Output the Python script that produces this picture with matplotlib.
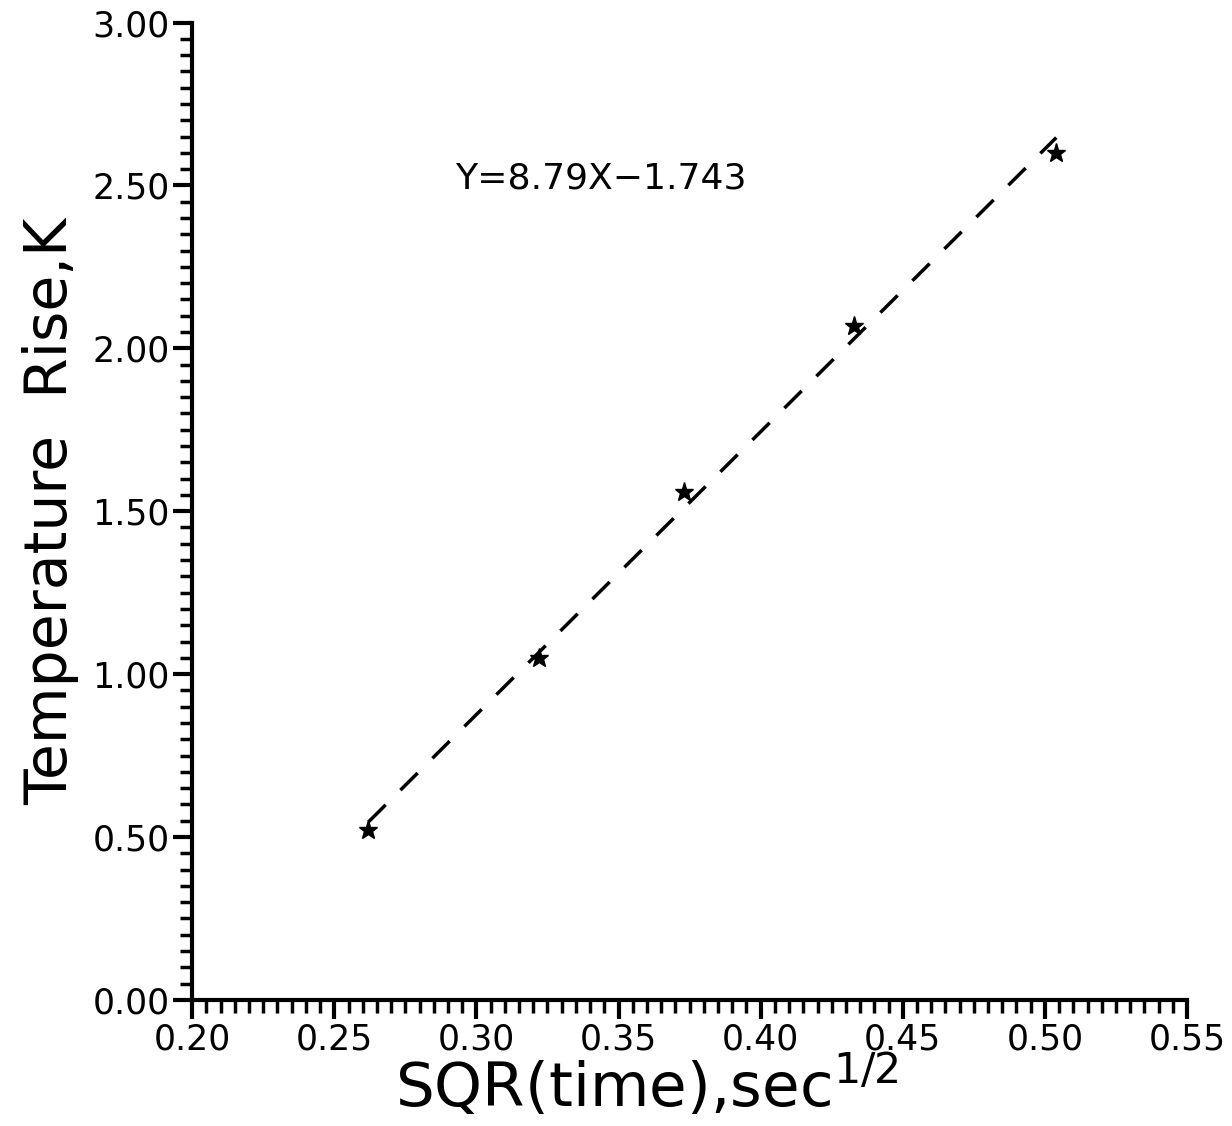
import numpy as np
import matplotlib
matplotlib.use('Agg')
import matplotlib.pyplot as plt
from matplotlib.ticker import MultipleLocator, FormatStrFormatter

plt.rcParams['font.family'] = ['DejaVu Sans']
plt.rcParams['mathtext.fontset'] = 'dejavusans'

# 数据：sqrt(time) 与温升
sqrt_time = [0.262, 0.322, 0.373, 0.433, 0.504]
temp_rise = [0.52, 1.05, 1.56, 2.07, 2.60]
equation = 'Y=8.79X\u22121.743'

fig = plt.figure(figsize=(12.32, 11.26), dpi=100)
ax = fig.add_axes([0.156, 0.112, 0.8075, 0.868])

# 拟合虚线（从第一个点画到最后一个点）
k, b = np.polyfit(sqrt_time, temp_rise, 1)
xs = np.array([sqrt_time[0], sqrt_time[-1]])
ax.plot(xs, k * xs + b, color='black', linestyle=(0, (7, 6)), linewidth=2.5, zorder=2)
ax.plot(sqrt_time, temp_rise, linestyle='none', marker='*', markersize=14,
        color='black', zorder=3)

ax.text(0.2925, 2.52, equation, fontsize=26, ha='left', va='center')

ax.set_xlim(0.20, 0.55)
ax.set_ylim(0.0, 3.0)
ax.xaxis.set_major_locator(MultipleLocator(0.05))
ax.xaxis.set_minor_locator(MultipleLocator(0.005))
ax.yaxis.set_major_locator(MultipleLocator(0.5))
ax.yaxis.set_minor_locator(MultipleLocator(0.05))
ax.xaxis.set_major_formatter(FormatStrFormatter('%.2f'))
ax.yaxis.set_major_formatter(FormatStrFormatter('%.2f'))

for side in ['top', 'right']:
    ax.spines[side].set_visible(False)
for side in ['left', 'bottom']:
    ax.spines[side].set_linewidth(3)

ax.tick_params(which='major', direction='out', length=14, width=3, labelsize=25, pad=2)
ax.tick_params(which='minor', direction='out', length=9, width=2.5)

ax.set_xlabel('SQR(time),sec$^{1/2}$', fontsize=44)
ax.xaxis.set_label_coords(0.457, -0.055)
ax.set_ylabel('Temperature  Rise,K', fontsize=42, labelpad=10)

fig.savefig('out.png', dpi=100)
